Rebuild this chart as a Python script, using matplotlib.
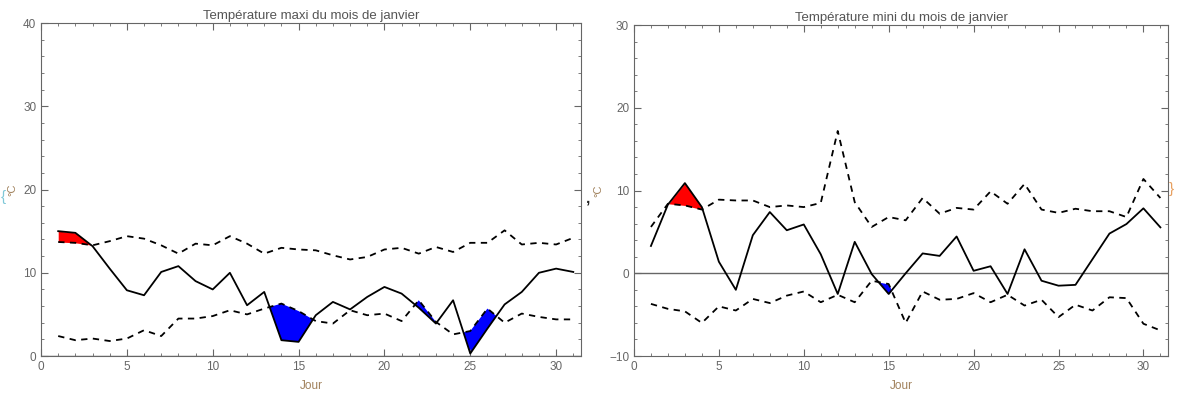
import matplotlib.pyplot as plt
from matplotlib.ticker import MultipleLocator
import numpy as np

plt.rcParams['font.family'] = ['Liberation Sans', 'DejaVu Sans']

jours = np.arange(1, 32)

# Température maxi
maxi_jour = [15.0, 14.8, 13.2, 10.5, 7.9, 7.3, 10.1, 10.8, 9.0, 8.0,
             10.0, 6.1, 7.7, 1.9, 1.7, 4.9, 6.5, 5.6, 7.1, 8.3,
             7.5, 5.8, 3.9, 6.7, 0.3, 3.3, 6.2, 7.7, 10.0, 10.5, 10.1]
maxi_haut = [13.7, 13.6, 13.3, 13.8, 14.4, 14.1, 13.3, 12.3, 13.5, 13.3,
             14.4, 13.5, 12.3, 13.0, 12.8, 12.7, 12.1, 11.6, 11.9, 12.8,
             13.0, 12.3, 13.1, 12.5, 13.6, 13.6, 15.1, 13.4, 13.6, 13.4, 14.2]
maxi_bas = [2.4, 1.9, 2.1, 1.8, 2.1, 3.1, 2.4, 4.5, 4.5, 4.8,
            5.5, 5.0, 5.7, 6.3, 5.4, 4.2, 3.9, 5.5, 4.9, 5.1,
            4.2, 6.7, 4.1, 2.6, 3.0, 5.7, 4.0, 5.1, 4.7, 4.4, 4.4]

# Température mini
mini_jour = [3.3, 8.3, 10.9, 8.0, 1.4, -2.0, 4.6, 7.4, 5.2, 5.9,
             2.3, -2.5, 3.8, -0.1, -2.5, 0.0, 2.4, 2.1, 4.45, 0.3,
             0.85, -2.5, 2.9, -0.9, -1.5, -1.4, 1.7, 4.8, 5.95, 7.85, 5.55]
mini_haut = [5.6, 8.4, 8.2, 7.7, 8.9, 8.8, 8.8, 8.0, 8.2, 8.0,
             8.5, 17.2, 8.6, 5.6, 6.8, 6.4, 9.1, 7.2, 7.9, 7.7,
             9.9, 8.4, 10.8, 7.7, 7.3, 7.8, 7.5, 7.5, 6.8, 11.4, 9.1]
mini_bas = [-3.7, -4.3, -4.6, -6.0, -4.0, -4.5, -3.1, -3.6, -2.7, -2.2,
            -3.5, -2.6, -3.5, -0.9, -1.3, -6.0, -2.2, -3.2, -3.1, -2.4,
            -3.5, -2.6, -3.9, -3.2, -5.3, -3.8, -4.5, -2.9, -3.0, -6.1, -6.9]

frame_col = '#666666'
tick_col = '#666666'
label_col = '#a0805a'
title_col = '#555555'

fig = plt.figure(figsize=(11.79, 3.94), dpi=100)
ax1 = fig.add_axes([0.0348, 0.0964, 0.458, 0.845])
ax2 = fig.add_axes([0.5377, 0.0964, 0.453, 0.840])


def trace(ax, jour, haut, bas, ylim, titre):
    jour = np.array(jour)
    haut = np.array(haut)
    bas = np.array(bas)
    ax.fill_between(jours, jour, haut, where=jour > haut, interpolate=True,
                    color='red', linewidth=0)
    ax.fill_between(jours, jour, bas, where=jour < bas, interpolate=True,
                    color='blue', linewidth=0)
    ax.plot(jours, haut, color='black', ls=(0, (3.5, 3)), lw=1.3)
    ax.plot(jours, bas, color='black', ls=(0, (3.5, 3)), lw=1.3)
    ax.plot(jours, jour, color='black', lw=1.3)
    ax.set_xlim(0, 31.45)
    ax.set_ylim(*ylim)
    ax.axhline(0, color=frame_col, lw=1, zorder=0)
    ax.xaxis.set_major_locator(MultipleLocator(5))
    ax.xaxis.set_minor_locator(MultipleLocator(1))
    ax.yaxis.set_major_locator(MultipleLocator(10))
    ax.yaxis.set_minor_locator(MultipleLocator(2))
    ax.tick_params(which='both', direction='in', top=True, right=True,
                   colors=frame_col, labelcolor=tick_col, labelsize=8.5)
    ax.tick_params(which='major', length=5)
    ax.tick_params(which='minor', length=2.5)
    for s in ax.spines.values():
        s.set_color(frame_col)
    ax.set_title(titre, color=title_col, fontsize=9.5, pad=3)
    ax.set_xlabel('Jour', color=label_col, fontsize=8.5, labelpad=5)
    ax.set_ylabel('°C', color=label_col, fontsize=8, labelpad=4)


trace(ax1, maxi_jour, maxi_haut, maxi_bas, (0, 40),
      'Température maxi du mois de janvier')
trace(ax2, mini_jour, mini_haut, mini_bas, (-10, 30),
      'Température mini du mois de janvier')

fig.text(0.0005, 0.50, '{', color='#7fc8d8', fontsize=11, va='center')
fig.text(0.497, 0.495, ',', color='#222222', fontsize=11, va='center',
         fontweight='bold')
fig.text(0.9915, 0.52, '}', color='#e8a060', fontsize=11, va='center')

fig.savefig('out.png', dpi=100)
